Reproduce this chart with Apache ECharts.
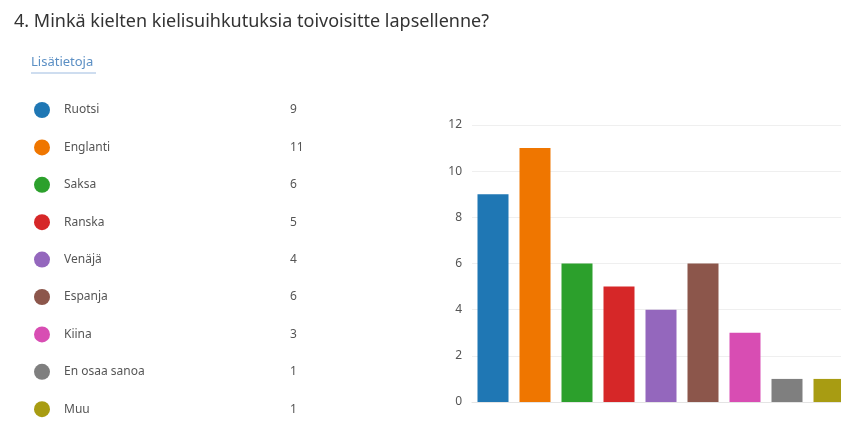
<!DOCTYPE html>
<html>
<head>
<meta charset="utf-8">
<script src="https://cdn.jsdelivr.net/npm/echarts@6/dist/echarts.min.js"></script>
<style>
  html, body { margin: 0; padding: 0; background: #fff; overflow: hidden; }
  #main { width: 860px; height: 423px; }
</style>
</head>
<body>
<div id="main"></div>
<script>
var titleText = '4. Minkä kielten kielisuihkutuksia toivoisitte lapsellenne?';
var linkText = 'Lisätietoja';

var languages = ['Ruotsi', 'Englanti', 'Saksa', 'Ranska', 'Venäjä', 'Espanja', 'Kiina', 'En osaa sanoa', 'Muu'];
var counts = [9, 11, 6, 5, 4, 6, 3, 1, 1];
var colors = ['#1f77b4', '#ef7600', '#2ca02c', '#d62728', '#9467bd', '#8c564b', '#d84db3', '#7f7f7f', '#a89c12'];
var yTicks = [0, 2, 4, 6, 8, 10, 12];

var chart = echarts.init(document.getElementById('main'));

// one series per language so the legend can list them; bars overlap in their own slot
var series = [];
for (var i = 0; i < languages.length; i++) {
  var d = [];
  for (var j = 0; j < languages.length; j++) {
    d[j] = (i === j) ? counts[i] : null;
  }
  series.push({
    name: languages[i],
    type: 'bar',
    data: d,
    barWidth: 31,
    barGap: '-100%',
    itemStyle: { color: colors[i] },
    emphasis: { disabled: true }
  });
}

var option = {
  animation: false,
  title: {
    text: titleText,
    left: 9,
    top: 8,
    textStyle: { fontFamily: 'Noto Sans', fontSize: 18, fontWeight: 'normal', color: '#333' }
  },
  legend: {
    orient: 'vertical',
    left: 29,
    top: 97,
    height: 330,
    icon: 'circle',
    itemWidth: 16,
    itemHeight: 16,
    itemGap: 21.4,
    selectedMode: false,
    data: languages,
    formatter: function (name) {
      return '{n|' + name + '}{v|' + counts[languages.indexOf(name)] + '}';
    },
    textStyle: {
      rich: {
        n: { width: 226, padding: [0, 0, 0, 9], fontFamily: 'Noto Sans', fontSize: 12, color: '#555' },
        v: { fontFamily: 'Noto Sans', fontSize: 12, color: '#555' }
      }
    }
  },
  graphic: [
    {
      type: 'text',
      left: 31,
      top: 56,
      style: { text: linkText, fontFamily: 'Noto Sans', fontSize: 13, fill: '#5b8fc4' }
    },
    {
      type: 'line',
      shape: { x1: 31, y1: 73, x2: 96, y2: 73 },
      style: { stroke: '#9dbbe0', lineWidth: 1 }
    }
  ],
  grid: {
    left: 472,
    top: 125,
    width: 378,
    bottom: 21
  },
  xAxis: {
    type: 'category',
    data: languages,
    axisLine: { lineStyle: { color: '#e4e4e4' } },
    axisTick: { show: false },
    axisLabel: { show: false }
  },
  yAxis: {
    type: 'value',
    min: yTicks[0],
    max: yTicks[yTicks.length - 1],
    interval: 2,
    axisLine: { show: false },
    axisTick: { show: false },
    axisLabel: { color: '#555', fontFamily: 'Noto Sans', fontSize: 12, margin: 10 },
    splitLine: { lineStyle: { color: '#efefef' } }
  },
  series: series
};

chart.setOption(option);
</script>
</body>
</html>
